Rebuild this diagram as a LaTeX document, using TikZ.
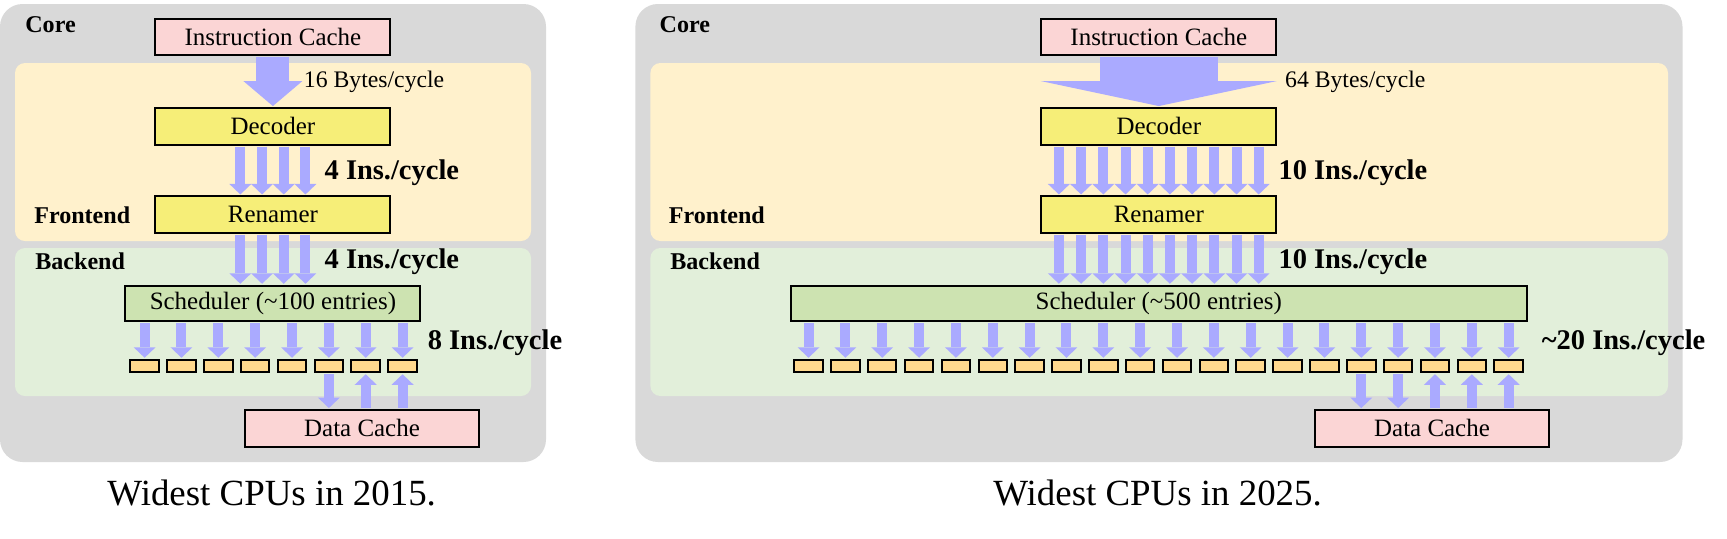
\documentclass[tikz,border=0pt]{standalone}
\usepackage{fontspec}
\setmainfont{Liberation Serif}
\usetikzlibrary{arrows.meta, calc, positioning}

\definecolor{coregray}{HTML}{D9D9D9}
\definecolor{frontyellow}{HTML}{FFF1CC}
\definecolor{backgreen}{HTML}{E2EFDA}
\definecolor{cachepink}{HTML}{FBD5D5}
\definecolor{unityellow}{HTML}{F6EE78}
\definecolor{schedgreen}{HTML}{CDE3B1}
\definecolor{slotorange}{HTML}{FFD98E}
\definecolor{flowblue}{HTML}{AAAAFF}

\begin{document}
\begin{tikzpicture}[x=0.02cm, y=-0.02cm,
    box/.style={rectangle,draw,line width=0.04cm,inner sep=0pt,minimum width=4.7cm,minimum height=0.73cm,font=\fontsize{14.2}{17}\selectfont},
    cache/.style={box,fill=cachepink},
    unit/.style={box,fill=unityellow},
    sched/.style={box,fill=schedgreen,minimum height=0.71cm},
    slot/.style={rectangle,draw,line width=0.04cm,fill=slotorange,minimum width=0.57cm,minimum height=0.25cm,inner sep=0pt},
    flow/.style={draw=flowblue,line width=0.2cm,shorten <=0.02cm,shorten >=0.02cm,-{Triangle[width=0.44cm,length=0.21cm,line width=0pt]}},
    sec/.style={anchor=base west,inner sep=0pt,font=\fontsize{13.7}{16}\selectfont\bfseries},
    rate/.style={anchor=base west,inner sep=0pt,font=\fontsize{16.2}{19}\selectfont\bfseries},
    bw/.style={anchor=base west,inner sep=0pt,font=\fontsize{13.5}{16}\selectfont},
    caption/.style={anchor=base,inner sep=0pt,font=\fontsize{21}{25}\selectfont}]
    \useasboundingbox (0,0) rectangle (1727,538);
    % 底框
    \fill[coregray, rounded corners=0.45cm] (0,4) rectangle (546,462);
    \fill[frontyellow, rounded corners=0.2cm] (15,63) rectangle (531,241);
    \fill[backgreen, rounded corners=0.2cm] (15,248) rectangle (531,396);
    \fill[coregray, rounded corners=0.45cm] (635.4,4) rectangle (1682.5,462);
    \fill[frontyellow, rounded corners=0.2cm] (650.4,63) rectangle (1668,241);
    \fill[backgreen, rounded corners=0.2cm] (650.4,248) rectangle (1668,396);
    % 2015
    \node[cache] (ic1) at (272.9,37) {Instruction Cache};
    \node[unit] (dec1) at (272.9,126.3) {Decoder};
    \node[unit] (ren1) at (272.9,214.7) {Renamer};
    \node[sched, minimum width=5.9cm] (sch1) at (272.9,303.5) {Scheduler (\textasciitilde100 entries)};
    \foreach \i in {1,...,8} {
        \node[slot] (a\i) at ({273.6+(\i-4.5)*36.85},366) {};
    }
    \node[cache] (dc1) at (362,428.3) {Data Cache};
    % 箭头
    \draw[flow, line width=0.66cm, -{Triangle[width=1.18cm,length=0.5cm,line width=0pt]}] (ic1.south) -- (dec1.north);
    \foreach \d in {-32.55,-10.85,10.85,32.55} {
        \draw[flow] ($(dec1.south)+(\d,0)$) -- ($(ren1.north)+(\d,0)$);
        \draw[flow] ($(ren1.south)+(\d,0)$) -- ($(sch1.north)+(\d,0)$);
    }
    \foreach \i in {1,...,8} {
        \draw[flow] (sch1.south -| a\i) -- (a\i.north);
    }
    \draw[flow] (a6.south) -- (a6.south |- dc1.north);
    \foreach \i in {7,8} {
        \draw[flow] (a\i.south |- dc1.north) -- (a\i.south);
    }
    % 标注
    \node[sec] (core1) at (25,32.3) {Core};
    \node[sec] (fe1) at (34,223.3) {Frontend};
    \node[sec] (be1) at (35,269.3) {Backend};
    \node[bw] (bw1) at (303.6,87.5) {16 Bytes/cycle};
    \node[rate] (r1) at (324.3,179.7) {4 Ins./cycle};
    \node[rate] (r2) at (324.3,268) {4 Ins./cycle};
    \node[rate] (r3) at (427.4,349.3) {8 Ins./cycle};
    \node[caption] (cap1) at (271.7,505) {Widest CPUs in 2015.};
    % 2025
    \node[cache] (ic2) at (1158.8,37) {Instruction Cache};
    \node[unit] (dec2) at (1158.8,126.3) {Decoder};
    \node[unit] (ren2) at (1158.8,214.7) {Renamer};
    \node[sched, minimum width=14.73cm] (sch2) at (1158.8,303.5) {Scheduler (\textasciitilde500 entries)};
    \foreach \i in {1,...,20} {
        \node[slot] (b\i) at ({1158.6+(\i-10.5)*36.85},366) {};
    }
    \node[cache] (dc2) at (1432,428.3) {Data Cache};
    % 箭头
    \draw[flow, line width=2.36cm, -{Triangle[width=4.72cm,length=0.5cm,line width=0pt]}] (ic2.south) -- (dec2.north);
    \foreach \d in {-99.9,-77.7,-55.5,-33.3,-11.1,11.1,33.3,55.5,77.7,99.9} {
        \draw[flow] ($(dec2.south)+(\d,0)$) -- ($(ren2.north)+(\d,0)$);
        \draw[flow] ($(ren2.south)+(\d,0)$) -- ($(sch2.north)+(\d,0)$);
    }
    \foreach \i in {1,...,20} {
        \draw[flow] (sch2.south -| b\i) -- (b\i.north);
    }
    \foreach \i in {16,17} {
        \draw[flow] (b\i.south) -- (b\i.south |- dc2.north);
    }
    \foreach \i in {18,19,20} {
        \draw[flow] (b\i.south |- dc2.north) -- (b\i.south);
    }
    % 标注
    \node[sec] (core2) at (659.3,32.3) {Core};
    \node[sec] (fe2) at (668.6,223.3) {Frontend};
    \node[sec] (be2) at (670,269.3) {Backend};
    \node[bw] (bw2) at (1284.8,87.3) {64 Bytes/cycle};
    \node[rate] (r4) at (1278.2,179.7) {10 Ins./cycle};
    \node[rate] (r5) at (1278.2,268) {10 Ins./cycle};
    \node[rate] (r6) at (1541.5,349.3) {\textasciitilde20 Ins./cycle};
    \node[caption] (cap2) at (1157.6,505) {Widest CPUs in 2025.};
\end{tikzpicture}
\end{document}
